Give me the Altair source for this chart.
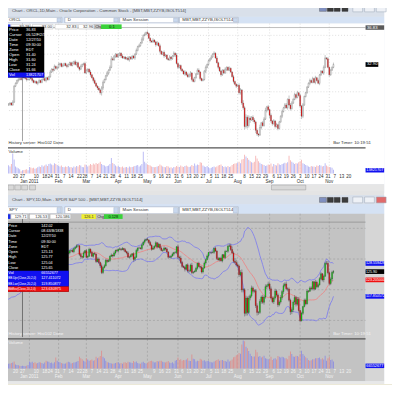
import altair as alt
import numpy as np
import pandas as pd

FONT = "Liberation Sans"
NARROW = "'Liberation Sans Narrow', 'Liberation Sans', sans-serif"
W, H = 373, 397

# ---------------- ORCL daily closes, Mon 13 Dec 2010 .. Fri 4 Nov 2011 (5 per week) ----------------
ORCL_CLOSE = [
    28.7, 28.8, 28.6, 28.9, 30.6,  30.9, 31.2, 31.3, 31.4, 31.3,  31.7, 31.5, 31.4, 31.3, 31.3,
    31.6, 31.4, 31.2, 31.0, 31.1,  30.9, 31.0, 31.2, 31.0, 31.3,  31.4, 31.2, 31.5, 31.3, 31.6,
    32.1, 32.4, 32.3, 32.7, 32.5,  32.6, 32.9, 33.0, 32.7, 32.8,  33.0, 32.8, 32.7, 32.9, 33.1,
    32.8, 33.0, 33.2, 32.9, 33.1,  32.6, 32.4, 32.7, 32.9, 33.0,  32.0, 32.3, 32.4, 32.1, 31.8,
    31.5, 31.2, 30.9, 30.6, 30.4,  30.2, 29.9, 30.4, 31.0, 31.3,  31.7, 32.0, 32.3, 32.6, 33.5,
    33.4, 33.8, 34.0, 33.7, 33.9,  34.1, 33.8, 33.6, 33.7, 33.5,  33.6, 33.4, 33.7, 33.5, 33.8,
    33.6, 34.0, 34.4, 34.8, 34.9,  35.2, 35.6, 36.0, 36.1, 36.3,  36.2, 35.7, 35.4, 35.3, 35.5,
    35.3, 35.0, 35.2, 34.9, 34.3,  34.0, 34.2, 33.8, 33.9, 33.5,  33.4, 33.7, 33.5, 33.8, 34.1,
    33.9, 33.0, 32.6, 32.8, 32.4,  32.2, 31.9, 32.1, 31.8, 31.6,  31.8, 32.0, 31.3, 31.1, 31.5,
    31.9, 32.3, 32.1, 31.4, 31.2,  31.3, 32.2, 32.6, 32.9, 33.3,  33.5, 33.7, 34.0, 34.1, 33.6,
    33.1, 32.6, 32.2, 31.8, 32.3,  32.0, 32.4, 32.6, 32.3, 32.5,  32.1, 31.6, 31.1, 30.8, 30.6,
    30.7, 29.9, 30.2, 28.8, 28.3,  26.3, 27.3, 26.4, 27.2, 27.0,  27.3, 27.0, 26.8, 25.9, 25.5,
    25.4, 26.2, 26.7, 26.4, 27.1,  28.0, 28.4, 28.1, 27.5, 26.9,  26.6, 26.9, 26.3, 26.5, 26.1,
    26.8, 27.4, 27.9, 28.3, 28.6,  28.3, 29.2, 28.6, 28.2, 28.8,  29.2, 29.7, 29.4, 29.9, 29.6,
    28.5, 27.4, 28.6, 29.5, 29.9,  30.5, 30.9, 31.2, 31.0, 31.4,  31.0, 31.5, 31.2, 30.9, 31.8,
    32.2, 32.0, 32.6, 33.6, 33.5,  32.6, 31.8, 32.3, 32.6, 32.9,
]
ORCL_FIRST_OPEN = 28.6
# wick above / below the candle body, in tenths of a dollar, one string per week
ORCL_WICK_UP = [
    "11121", "11211", "21111", "12111", "11211", "12111", "21121", "12112", "11211", "12121",
    "11211", "21112", "11211", "21221", "12123", "21112", "11211", "12111", "11212", "12121",
    "21112", "11212", "11211", "12112", "12111", "11212", "12121", "12211", "11211", "12121",
    "21111", "12112", "11211", "12213", "23232", "12212", "13122", "31212", "12121", "11212",
    "21422", "12121", "21211", "11212", "12121", "11231", "21112",
]
ORCL_WICK_DN = [
    "12111", "11211", "11121", "11211", "12111", "11211", "11211", "21111", "11211", "11112",
    "12111", "11212", "12112", "12321", "11211", "11211", "12111", "11211", "12111", "11211",
    "11211", "12112", "11211", "11211", "21212", "11211", "12211", "11321", "11211", "11111",
    "12121", "11211", "11212", "12222", "32323", "12232", "21211", "12132", "21212", "11211",
    "12121", "11211", "23211", "11211", "12112", "11211", "12111",
]
ORCL_VOL_M = [
    35, 30, 40, 85, 60,  30, 25, 22, 18, 10,  14, 15, 16, 18, 14,  28, 25, 22, 24, 20,
    22, 26, 30, 28, 35,  30, 34, 38, 32, 40,  42, 38, 35, 44, 40,  36, 32, 30, 34, 28,
    26, 30, 28, 32, 26,  28, 24, 30, 26, 32,  30, 36, 34, 28, 26,  38, 36, 30, 34, 40,
    36, 42, 38, 45, 40,  44, 50, 40, 36, 34,  30, 32, 34, 40, 66,  45, 40, 34, 30, 32,
    28, 26, 30, 24, 26,  28, 24, 30, 26, 28,  30, 32, 34, 36, 30,  34, 40, 92, 50, 44,
    38, 36, 34, 30, 28,  26, 28, 30, 32, 38,  34, 30, 28, 26, 32,  30, 24, 26, 22, 28,
    26, 32, 30, 28, 34,  30, 28, 32, 34, 30,  28, 30, 36, 32, 42,  34, 38, 36, 48, 46,
    34, 30, 28, 32, 26,  22, 24, 28, 30, 26,  30, 34, 36, 38, 32,  28, 30, 26, 32, 28,
    30, 36, 40, 42, 44,  46, 50, 44, 60, 62,  80, 72, 66, 58, 52,  48, 46, 50, 75, 64,
    52, 46, 40, 38, 36,  32, 34, 38, 36, 42,  30, 40, 36, 34, 44,  38, 36, 40, 42, 46,
    44, 48, 75, 56, 50,  46, 40, 44, 42, 48,  52, 58, 44, 40, 36,  34, 30, 28, 32, 30,
    30, 28, 34, 32, 36,  34, 30, 32, 44, 34,  30, 28, 26, 24, 16,
]

# ---------------- SPY daily closes, Mon 8 Nov 2010 .. Fri 4 Nov 2011 (5 per week) ----------------
SPY_CLOSE = [
    122.0, 121.5, 122.3, 121.5, 120.2,  119.9, 118.0, 118.1, 119.9, 120.2,  120.1, 118.3, 120.2, 120.2, 119.3,
    119.0, 118.3, 120.8, 122.1, 122.4,  122.3, 122.4, 122.8, 123.2, 123.8,
    124.0, 124.2, 123.8, 124.4, 124.3,  124.6, 125.3, 125.6, 125.4, 125.4,  125.65, 125.8, 126.0, 125.7, 125.8,
    127.1, 127.3, 127.9, 127.6, 127.4,  127.1, 128.1, 129.1, 128.9, 129.7,  129.7, 130.0, 128.8, 129.1, 129.4,
    130.3, 130.4, 130.8, 131.0, 128.4,  129.0, 131.2, 131.2, 130.9, 131.2,  131.9, 132.0, 131.9, 132.0, 132.7,
    132.8, 132.4, 133.4, 133.8, 134.3,  134.3, 131.5, 130.8, 130.6, 132.0,  132.7, 130.6, 130.9, 133.2, 132.2,
    130.9, 131.8, 131.6, 129.2, 130.0,  128.9, 127.8, 125.6, 127.2, 127.8,  129.6, 129.2, 129.5, 130.9, 131.3,
    131.0, 132.0, 132.8, 132.6, 133.2,  133.3, 133.1, 133.4, 133.0, 132.4,  132.0, 130.6, 130.7, 131.2, 131.7,
    129.9, 130.6, 132.8, 133.6, 133.6,  133.4, 134.6, 135.5, 136.1, 136.4,  136.2, 135.4, 134.5, 133.2, 133.6,
    134.2, 135.3, 133.9, 134.8, 133.6,  132.8, 132.9, 133.6, 133.3, 132.3,  130.6, 130.6, 131.0, 131.6, 132.1,
    132.1, 134.0, 130.6, 130.3, 128.9,  127.6, 127.3, 126.7, 128.1, 126.1,  126.1, 128.0, 125.6, 125.8, 126.0,
    127.0, 128.6, 127.6, 127.3, 125.8,  127.1, 128.7, 129.8, 131.0, 132.1,  132.1, 132.1, 132.2, 133.5, 132.6,
    130.2, 129.7, 130.3, 129.4, 131.4,  130.5, 132.5, 132.5, 134.2, 134.3,  133.1, 132.0, 129.3, 128.9, 128.1,
    127.7, 124.9, 125.6, 119.9, 120.0,  112.3, 117.3, 112.6, 117.3, 118.0,  120.6, 119.5, 119.7, 114.8, 112.6,
    112.6, 116.2, 117.6, 115.9, 117.6,  121.0, 121.3, 121.9, 120.3, 117.3,  116.1, 117.3, 119.6, 118.3, 115.1,
    116.0, 117.5, 119.4, 121.3, 121.9,  120.3, 120.2, 116.6, 112.8, 113.5,  116.0, 117.5, 115.3, 116.9, 113.2,
    109.9, 112.3, 114.5, 116.6, 115.4,  119.6, 119.5, 120.6, 120.3, 122.6,  120.2, 122.5, 121.0, 121.6, 123.6,
    125.2, 123.2, 124.4, 128.6, 128.6,  125.5, 122.0, 123.5, 125.7, 125.9,
]
SPY_FIRST_OPEN = 121.8
# wick above / below the body, in quarters of a dollar, one string per week
SPY_WICK_UP = [
    "21212", "12121", "21212", "12121", "21212",
    "12121", "21111", "11211", "21212", "12121", "21212", "12121", "21212", "12121", "12112",
    "21212", "12121", "21212", "21312", "21212", "12121", "21212", "12121", "21212", "12121",
    "21212", "12121", "21212", "12121", "21323", "21212", "22312", "21212", "12121", "21212",
    "12121", "12123", "34243", "32342", "23232", "32223", "23232", "32323", "22322", "23232",
    "32223", "23233", "12122", "21221", "13222", "21223", "32222",
]
SPY_WICK_DN = [
    "12121", "21212", "12121", "21212", "12121",
    "21212", "11121", "12111", "12121", "21212", "12121", "21212", "12123", "21212", "21211",
    "12321", "21212", "12121", "23221", "12121", "21212", "12121", "21212", "32121", "12121",
    "12121", "21212", "12121", "21212", "12232", "21312", "21221", "12122", "21212", "12121",
    "21212", "12121", "21212", "23233", "43423", "23234", "32323", "23232", "23223", "22332",
    "23243", "34323", "21212", "12122", "21221", "22312", "22232",
]
SPY_VOL_M = [
    180, 170, 190, 200, 210,  250, 280, 220, 200, 170,  160, 190, 150, 60, 110,  180, 190, 220, 170, 160,
    150, 160, 140, 130, 140,
    120, 130, 140, 150, 180,  100, 90, 80, 70, 60,  66, 60, 55, 70, 90,  180, 150, 170, 140, 160,
    130, 140, 160, 150, 140,  120, 150, 200, 180, 170,  140, 150, 130, 160, 280,  200, 170, 160, 140, 130,
    120, 130, 150, 170, 160,  130, 140, 150, 160, 170,  190, 300, 260, 240, 200,  180, 260, 230, 200, 210,
    230, 200, 210, 300, 260,  280, 320, 460, 300, 260,  200, 160, 150, 140, 130,  120, 130, 140, 150, 160,
    130, 140, 120, 150, 160,  140, 170, 160, 150, 140,  190, 160, 180, 140, 130,  120, 150, 170, 140, 130,
    140, 170, 190, 200, 180,  150, 160, 190, 180, 200,  200, 170, 160, 150, 170,  190, 150, 140, 160, 130,
    200, 220, 280, 220, 240,  200, 220, 210, 230, 260,  200, 190, 360, 250, 240,  180, 200, 190, 250, 230,
    200, 210, 180, 190, 200,  170, 160, 150, 180, 200,  220, 240, 200, 210, 220,  200, 190, 170, 230, 180,
    200, 230, 290, 300, 340,  360, 400, 380, 620, 720,  700, 560, 520, 450, 380,  320, 300, 310, 480, 420,
    300, 320, 280, 300, 330,  260, 250, 240, 230, 300,  220, 250, 260, 230, 320,  300, 280, 300, 290, 260,
    260, 240, 330, 440, 370,  310, 300, 330, 320, 300,  380, 460, 370, 330, 290,  260, 220, 200, 210, 240,
    240, 260, 260, 270, 280,  240, 260, 230, 330, 200,  260, 300, 220, 230, 180,
]

# ---------------- axis labels ----------------
WEEK_TICKS = [
    "2010-12-20", "2010-12-27", "2011-01-10", "2011-01-18", "2011-01-24", "2011-01-31",
    "2011-02-07", "2011-02-14", "2011-02-22", "2011-02-28", "2011-03-07", "2011-03-14",
    "2011-03-21", "2011-03-28", "2011-04-04", "2011-04-11", "2011-04-18", "2011-04-25",
    "2011-05-09", "2011-05-16", "2011-05-23", "2011-05-31", "2011-06-06", "2011-06-13",
    "2011-06-20", "2011-06-27", "2011-07-05", "2011-07-11", "2011-07-18", "2011-07-25",
    "2011-08-08", "2011-08-15", "2011-08-22", "2011-08-29", "2011-09-06", "2011-09-12",
    "2011-09-19", "2011-09-26", "2011-10-03", "2011-10-10", "2011-10-17", "2011-10-24",
    "2011-10-31", "2011-11-07", "2011-11-14", "2011-11-21",
]
WEEK_LABELS = ["20", "27", "10", "18", "24", "31", "7", "14", "22", "28", "7", "14",
               "21", "28", "4", "11", "18", "25", "9", "16", "23", "31", "6", "13",
               "20", "27", "5", "11", "18", "25", "8", "15", "22", "29", "6", "12",
               "19", "26", "3", "10", "17", "24", "31", "7", "13", "20"]
MONTH_TICKS = ["2011-01-03", "2011-02-01", "2011-03-01", "2011-04-01", "2011-05-02", "2011-06-01",
               "2011-07-01", "2011-08-01", "2011-09-01", "2011-10-03", "2011-11-01"]
MONTH_LABELS = ["Jan 2011", "Feb", "Mar", "Apr", "May", "Jun", "Jul", "Aug", "Sep", "Oct", "Nov"]
TOP_PRICE_TICKS = [26, 28, 30, 32, 34, 36]
TOP_VOL_TICKS = [0, 50000000, 100000000]
BOT_PRICE_TICKS = [110, 120, 130, 140]
BOT_VOL_TICKS = [0, 200000000, 400000000, 600000000]
CURSOR_DATE = "2010-12-27"
TOP_CURSOR_PRICE = 36.83
BOT_CURSOR_PRICE = 142.02
TOP_CURSOR_VOL = 13821707
BOT_CURSOR_VOL = 66552677


def kidx(dates):
    d = np.array(pd.to_datetime(dates).values, dtype="datetime64[D]")
    return np.busday_count(np.datetime64("2010-12-20"), d)


def ohlc(start, closes, first_open, wick_up, wick_dn, unit, vols):
    dates = pd.bdate_range(start, periods=len(closes))
    c = np.array(closes, float)
    o = np.r_[first_open, c[:-1]]
    up = np.array([int(ch) for ch in "".join(wick_up)]) * unit
    dn = np.array([int(ch) for ch in "".join(wick_dn)]) * unit
    df = pd.DataFrame({"k": kidx(dates), "o": o, "c": c,
                       "hi": np.maximum(o, c) + up, "lo": np.minimum(o, c) - dn,
                       "v": np.array(vols, float) * 1e6})
    df["dir"] = np.where(c >= o, "up", "down")
    return df


orcl = ohlc("2010-12-13", ORCL_CLOSE, ORCL_FIRST_OPEN, ORCL_WICK_UP, ORCL_WICK_DN, 0.1, ORCL_VOL_M)
spy = ohlc("2010-11-08", SPY_CLOSE, SPY_FIRST_OPEN, SPY_WICK_UP, SPY_WICK_DN, 0.25, SPY_VOL_M)
roll = spy["c"].rolling(20)
spy["mid"] = roll.mean()
spy["upr"] = spy["mid"] + 2 * roll.std(ddof=0)
spy["lwr"] = spy["mid"] - 2 * roll.std(ddof=0)

weeks = pd.DataFrame({"k": kidx(WEEK_TICKS), "lab": WEEK_LABELS})
months = pd.DataFrame({"k": kidx(MONTH_TICKS), "lab": MONTH_LABELS})
cursor = pd.DataFrame({"k": kidx([CURSOR_DATE])})

# ---------------- scales ----------------
XS = alt.Scale(domain=[-7.554, 248.59], zero=False, nice=False)
YT = alt.Scale(domain=[24.021, 37.25], range=[147, 20], zero=False, nice=False)
YTV = alt.Scale(domain=[0, 104.2e6], range=[173, 148], nice=False)
YB = alt.Scale(domain=[103.936, 144.787], range=[342, 214], zero=False, nice=False)
YBV = alt.Scale(domain=[0, 760e6], range=[372, 342], nice=False)

X = alt.X("k:Q", scale=XS, axis=None)
DUMMY = pd.DataFrame({"z": [0]})


def raxis(values, fmt, color="#303030"):
    return alt.Axis(orient="right", values=values, format=fmt, ticks=False, grid=False, title=None,
                    domainColor="#7a7a7a", domainWidth=1, labelFont=FONT, labelFontSize=4.6,
                    labelColor=color, labelPadding=2, labelAlign="left", labelBaseline="middle",
                    labelOverlap=False, labelFlush=False)


def box(x1, y1, x2, y2, fill, stroke=None, sw=0.5):
    kw = {"fill": fill}
    if stroke:
        kw.update(stroke=stroke, strokeWidth=sw)
    else:
        kw.update(strokeWidth=0)
    return alt.Chart(DUMMY).mark_rect(**kw).encode(
        x=alt.value(x1), x2=alt.value(x2), y=alt.value(y1), y2=alt.value(y2))


def txt(x, y, s, size=4.6, color="#202020", align="left", weight="normal", font=FONT):
    return alt.Chart(DUMMY).mark_text(align=align, baseline="middle", fontSize=size, color=color,
                                      font=font, fontWeight=weight).encode(
        x=alt.value(x), y=alt.value(y), text=alt.value(s))


def hrule(x1, x2, y, color, sw=1.0, dash=None):
    kw = {"color": color, "strokeWidth": sw}
    if dash:
        kw["strokeDash"] = dash
    return alt.Chart(DUMMY).mark_rule(**kw).encode(x=alt.value(x1), x2=alt.value(x2), y=alt.value(y))


def window_chrome(y0, ytb, title, sym, close_fill):
    """title bar from y0 to ytb, toolbar from ytb to y0 + 20"""
    L = []
    L.append(box(0, y0, 392, ytb, "#d9e0ea"))
    L.append(txt(12, (y0 + ytb) / 2 + 0.2, title, 4.4, "#4a4a4a"))
    L.append(box(326, y0 + 2.5, 333, y0 + 7.5, "#8090c0", "#505050", 0.4))
    for xa in (334, 341, 349):
        L.append(box(xa, y0 + 2.5, xa + 6, y0 + 7.5, "#3c3c3c", "#202020", 0.4))
    for xa in (360, 372):
        L.append(box(xa, y0 + 2, xa + 10, y0 + 8, "#eef1f6", "#9aa6b8", 0.5))
    L.append(box(384, y0 + 2, 394, y0 + 8, close_fill, "#9aa6b8", 0.5))
    L.append(box(0, ytb, 392, y0 + 20, "#d5e2f4"))
    bt = max(y0 + 12, ytb + 0.6)
    for (xa, xb, s) in ((4, 63, sym), (66, 121, "D"), (122, 182, "Main Session"),
                        (183, 243, "MBT,MBT,ZZYB,ISOLT514")):
        L.append(box(xa, bt, xb, y0 + 19.2, "#ffffff", "#8f9fb8", 0.5))
        L.append(txt(max(xa + 3, 9), (bt + y0 + 19.2) / 2 + 0.2, s, 4.4, "#303030"))
        L.append(box(xb - 5, bt + 0.8, xb - 0.8, y0 + 18.4, "#c9d8ee", "#8f9fb8", 0.3))
    return L


layers = []

# ======================= TOP WINDOW (ORCL) =======================
layers.append(box(0, 0, 392, 193, "#dfe6ef"))
layers += window_chrome(0, 13.0, "Chart - ORCL,1D,Main - Oracle Corporation - Common Stock - [MBT,MBT,ZZYB,ISOLT514]",
                        "ORCL", "#eef1f6")
layers.append(box(0, 20, 392, 184, "#ffffff"))
layers.append(box(0, 184, 392, 191, "#e6e6e6"))
for xa in (8, 15, 22, 30):
    layers.append(box(xa, 184.8, xa + 6, 189.8, "#d8d8d8", "#8a8a8a", 0.4))
layers.append(box(277, 184.8, 312, 189.8, "#d8d8d8", "#8a8a8a", 0.4))

# grid
layers.append(alt.Chart(months).mark_rule(color="#c8c8c8", strokeWidth=0.6, strokeDash=[1, 2]).encode(
    x=X, y=alt.value(20), y2=alt.value(173)))

top_price = alt.layer(
    alt.Chart(pd.DataFrame({"p": TOP_PRICE_TICKS})).mark_rule(
        color="#c8c8c8", strokeWidth=0.6, strokeDash=[1, 2]).encode(
        y=alt.Y("p:Q", scale=YT, axis=raxis(TOP_PRICE_TICKS, ".2f")), x=alt.value(0), x2=alt.value(373)),
    alt.Chart(pd.DataFrame({"p": [TOP_CURSOR_PRICE]})).mark_rule(color="#a0a0a0", strokeWidth=0.7).encode(
        y=alt.Y("p:Q", scale=YT, axis=None), x=alt.value(0), x2=alt.value(373)),
    alt.Chart(orcl).mark_rule(color="#6a6a6a", strokeWidth=0.4).encode(
        x=X, y=alt.Y("lo:Q", scale=YT, axis=None), y2="hi:Q"),
    alt.Chart(orcl).mark_bar(width=1.0, stroke="#5a5a5a", strokeWidth=0.3).encode(
        x=X, y=alt.Y("o:Q", scale=YT, axis=None), y2="c:Q",
        fill=alt.condition("datum.dir == 'up'", alt.value("#ffffff"), alt.value("#ff0000"))),
)
layers.append(top_price)

top_vol = alt.layer(
    alt.Chart(pd.DataFrame({"p": TOP_VOL_TICKS})).mark_rule(opacity=0).encode(
        y=alt.Y("p:Q", scale=YTV, axis=raxis(TOP_VOL_TICKS, "d")), x=alt.value(0), x2=alt.value(373)),
    alt.Chart(orcl).mark_bar(width=0.9).encode(
        x=X, y=alt.Y("v:Q", scale=YTV, axis=None, stack=None),
        color=alt.condition("datum.dir == 'up'", alt.value("#b4b4f4"), alt.value("#f6b4b4"))),
)
layers.append(top_vol)

layers.append(hrule(0, 373, 146.8, "#555555", 1.2))
layers.append(txt(8.5, 142, "History server: Hist102 Done", 4.4, "#303030"))
layers.append(txt(340, 142, "Bar Timer: 10:19:51", 4.4, "#303030"))
layers.append(txt(8.5, 150.6, "Volume", 4.4, "#303030"))
layers.append(alt.Chart(cursor).mark_rule(color="#8a8a8a", strokeWidth=0.8).encode(
    x=X, y=alt.value(20), y2=alt.value(140)))

# date labels
layers.append(alt.Chart(weeks).mark_text(fontSize=4.6, font=FONT, color="#303030", baseline="middle").encode(
    x=X, y=alt.value(176.3), text="lab:N"))
layers.append(alt.Chart(months).mark_text(fontSize=4.6, font=FONT, color="#303030", baseline="middle").encode(
    x=X, y=alt.value(181.3), text="lab:N"))

# field row
layers.append(box(8, 20.8, 10.5, 25.5, "#1a2ee8"))
for (xa, xb, s) in ((11, 31, "32.28"), (33, 54, "33.00"), (56, 79, "32.83"), (80, 96, "32.96")):
    layers.append(box(xa, 20.8, xb, 25.5, "#ffffff", "#a8a8a8", 0.4))
    layers.append(txt(xb - 1, 23.2, s, 4.2, "#303030", "right"))
layers.append(box(96, 20.8, 103, 25.5, "#c8c8c8", "#a0a0a0", 0.4))
layers.append(txt(97, 23.2, "Chg", 4.0, "#202020"))
layers.append(box(103, 20.8, 124, 25.5, "#3ad23a"))
layers.append(txt(114, 23.2, "0.1", 4.2, "#102010", "center"))

# data window (top)
TOP_ROWS = [("Price", "36.83"), ("Cursor", "06.52/F/2/10"), ("Date", "12/27/10"), ("Time", "09:30:00"),
            ("Zone", "EDT"), ("Open", "31.40"), ("High", "31.60"), ("Low", "31.24"), ("Close", "31.66"),
            ("Vol", "13821707")]
layers.append(box(7, 23.2, 45, 75, "#000000"))
layers.append(box(7, 69.8, 45, 75, "#1010f0"))
for i, (a, b) in enumerate(TOP_ROWS):
    yy = 26.2 + i * 5.18
    layers.append(txt(9, yy, a, 4.3, "#ffffff"))
    layers.append(txt(26.5, yy, b, 3.9, "#ffffff", font=NARROW))

# right-side value boxes (top)
last_orcl = orcl.iloc[[-1]].assign(lab=lambda d: d["c"].map(lambda v: f"{v:.2f}"))
curp = pd.DataFrame({"p": [TOP_CURSOR_PRICE], "lab": [f"{TOP_CURSOR_PRICE:.2f}"]})
layers.append(alt.Chart(curp).mark_tick(orient="horizontal", size=19, thickness=4.6, color="#5a5a5a",
                                        opacity=1).encode(
    x=alt.value(382.5), y=alt.Y("p:Q", scale=YT, axis=None)))
layers.append(alt.Chart(curp).mark_text(align="left", baseline="middle", fontSize=4.3, font=FONT,
                                        color="#ffffff").encode(
    x=alt.value(374.5), y=alt.Y("p:Q", scale=YT, axis=None), text="lab:N"))
layers.append(alt.Chart(last_orcl).mark_tick(orient="horizontal", size=13, thickness=4.8, color="#000000",
                                             opacity=1).encode(
    x=alt.value(379.5), y=alt.Y("c:Q", scale=YT, axis=None)))
layers.append(alt.Chart(last_orcl).mark_text(align="left", baseline="middle", fontSize=4.3, font=FONT,
                                             color="#ffffff").encode(
    x=alt.value(374.5), y=alt.Y("c:Q", scale=YT, axis=None), text="lab:N"))
tv = pd.DataFrame({"v": [TOP_CURSOR_VOL], "lab": [str(TOP_CURSOR_VOL)]})
layers.append(alt.Chart(tv).mark_tick(orient="horizontal", size=19, thickness=4.6, color="#1010f0",
                                      opacity=1).encode(
    x=alt.value(382.5), y=alt.Y("v:Q", scale=YTV, axis=None)))
layers.append(alt.Chart(tv).mark_text(align="left", baseline="middle", fontSize=3.9, font=NARROW,
                                      color="#ffffff").encode(
    x=alt.value(373.8), y=alt.Y("v:Q", scale=YTV, axis=None), text="lab:N"))

# ======================= BOTTOM WINDOW (SPY) =======================
layers.append(box(0, 191, 392, 195, "#e4e4e4"))
layers.append(box(0, 195, 392, 397, "#dfe6ef"))
layers += window_chrome(195, 204.3, "Chart - SPY,1D,Main - SPDR S&P 500 - [MBT,MBT,ZZYB,ISOLT514]", "SPY",
                        "#e06a6a")
layers.append(box(0, 214, 373, 385, "#c3c3c3"))
layers.append(box(373, 214, 392, 385, "#d6d6d6"))
layers.append(box(0, 385, 392, 388, "#e8e8e8"))
layers.append(box(0, 388, 400, 397, "#ece9d8"))

layers.append(alt.Chart(months).mark_rule(color="#9a9a9a", strokeWidth=0.6, strokeDash=[2, 2]).encode(
    x=X, y=alt.value(214), y2=alt.value(372)))

bot_price = alt.layer(
    alt.Chart(pd.DataFrame({"p": BOT_PRICE_TICKS})).mark_rule(
        color="#9a9a9a", strokeWidth=0.6, strokeDash=[2, 2]).encode(
        y=alt.Y("p:Q", scale=YB, axis=raxis(BOT_PRICE_TICKS, ".2f", "#202020")), x=alt.value(0), x2=alt.value(373)),
    alt.Chart(pd.DataFrame({"p": [BOT_CURSOR_PRICE]})).mark_rule(color="#8a8a8a", strokeWidth=0.7).encode(
        y=alt.Y("p:Q", scale=YB, axis=None), x=alt.value(0), x2=alt.value(373)),
    alt.Chart(spy).mark_line(color="#7878f0", strokeWidth=0.8).encode(
        x=X, y=alt.Y("upr:Q", scale=YB, axis=None)),
    alt.Chart(spy).mark_line(color="#7878f0", strokeWidth=0.8).encode(
        x=X, y=alt.Y("lwr:Q", scale=YB, axis=None)),
    alt.Chart(spy).mark_line(color="#f08080", strokeWidth=0.8).encode(
        x=X, y=alt.Y("mid:Q", scale=YB, axis=None)),
    alt.Chart(spy).mark_rule(color="#303030", strokeWidth=0.4).encode(
        x=X, y=alt.Y("lo:Q", scale=YB, axis=None), y2="hi:Q"),
    alt.Chart(spy).mark_bar(width=1.0, stroke="#303030", strokeWidth=0.3).encode(
        x=X, y=alt.Y("o:Q", scale=YB, axis=None), y2="c:Q",
        fill=alt.condition("datum.dir == 'up'", alt.value("#00ee00"), alt.value("#ff0000"))),
)
layers.append(bot_price)

bot_vol = alt.layer(
    alt.Chart(pd.DataFrame({"p": BOT_VOL_TICKS})).mark_rule(opacity=0).encode(
        y=alt.Y("p:Q", scale=YBV, axis=raxis(BOT_VOL_TICKS, "d", "#202020")), x=alt.value(0), x2=alt.value(373)),
    alt.Chart(spy).mark_bar(width=0.9).encode(
        x=X, y=alt.Y("v:Q", scale=YBV, axis=None, stack=None),
        color=alt.condition("datum.dir == 'up'", alt.value("#8e8ee0"), alt.value("#dc9090"))),
)
layers.append(bot_vol)

layers.append(hrule(0, 373, 341.8, "#555555", 1.2))
layers.append(txt(8.5, 336.5, "History server: Hist102 Done", 4.4, "#f4f4f4"))
layers.append(txt(340, 336.5, "Bar Timer: 10:19:51", 4.4, "#f4f4f4"))
layers.append(txt(8.5, 345.8, "Volume", 4.4, "#f4f4f4"))
layers.append(alt.Chart(cursor).mark_rule(color="#5a5a5a", strokeWidth=0.8).encode(
    x=X, y=alt.value(214), y2=alt.value(340)))

layers.append(alt.Chart(weeks).mark_text(fontSize=4.6, font=FONT, color="#f2f2f2", baseline="middle").encode(
    x=X, y=alt.value(375.3), text="lab:N"))
layers.append(alt.Chart(months).mark_text(fontSize=4.6, font=FONT, color="#f2f2f2", baseline="middle").encode(
    x=X, y=alt.value(380.8), text="lab:N"))

# field row
layers.append(box(8, 214.6, 10.5, 219.4, "#1a2ee8"))
for (xa, xb, s) in ((11, 28, "129.71"), (30, 49, "126.53"), (51, 72, "120.586")):
    layers.append(box(xa, 214.6, xb, 219.4, "#ffffff", "#a8a8a8", 0.4))
    layers.append(txt(xb - 1, 217, s, 4.0, "#303030", "right", font=NARROW))
layers.append(box(83, 214.6, 98, 219.4, "#f0f030"))
layers.append(txt(90.5, 217, "126.1", 4.0, "#303030", "center", font=NARROW))
layers.append(box(98, 214.6, 106, 219.4, "#c8c8c8", "#a0a0a0", 0.4))
layers.append(txt(99, 217, "Chg", 3.8, "#202020"))
layers.append(box(106, 214.6, 125, 219.4, "#3ad23a"))
layers.append(txt(115.5, 217, "0.128", 4.0, "#102010", "center", font=NARROW))

# data window (bottom)
BOT_ROWS = [("Price", "142.02"), ("Cursor", "08.63/B/1838"), ("Date", "12/27/10"), ("Time", "09:30:00"),
            ("Zone", "EDT"), ("Open", "125.13"), ("High", "125.77"), ("Low", "125.04"), ("Close", "125.65"),
            ("Vol", "66552677"), ("BB.Upr(Close,20,2,0)", "127.411072"), ("BB.Lwr(Close,20,2,0)", "119.850877"),
            ("BbMov(Close,20,2,0)", "123.630975")]
layers.append(box(5, 223.5, 70, 293.8, "#000000"))
layers.append(box(5, 272.4, 70, 288.5, "#1010f0"))
layers.append(box(5, 288.5, 70, 293.8, "#f01010"))
for i, (a, b) in enumerate(BOT_ROWS):
    yy = 226.6 + i * 5.34
    layers.append(txt(8.3, yy, a, 3.0 if len(a) > 12 else 4.0, "#ffffff", font=NARROW))
    layers.append(txt(42, yy, b, 3.8, "#ffffff", font=NARROW))

# right-side value boxes (bottom)
last = spy.iloc[-1]
rb = pd.DataFrame({"p": [last["upr"], last["c"], last["mid"], last["lwr"]],
                   "lab": [f"{last['upr']:.6f}", f"{last['c']:.2f}", f"{last['mid']:.6f}", f"{last['lwr']:.6f}"],
                   "col": ["#1010f0", "#000000", "#f01010", "#1010f0"]})
layers.append(alt.Chart(rb).mark_tick(orient="horizontal", size=19, thickness=4.8, opacity=1).encode(
    x=alt.value(382.5), y=alt.Y("p:Q", scale=YB, axis=None), color=alt.Color("col:N", scale=None)))
layers.append(alt.Chart(rb).mark_text(align="left", baseline="middle", fontSize=3.7, font=NARROW,
                                      color="#ffffff").encode(
    x=alt.value(373.5), y=alt.Y("p:Q", scale=YB, axis=None), text="lab:N"))
bv = pd.DataFrame({"v": [BOT_CURSOR_VOL], "lab": [str(BOT_CURSOR_VOL)]})
layers.append(alt.Chart(bv).mark_tick(orient="horizontal", size=19, thickness=4.6, color="#1010f0",
                                      opacity=1).encode(
    x=alt.value(382.5), y=alt.Y("v:Q", scale=YBV, axis=None)))
layers.append(alt.Chart(bv).mark_text(align="left", baseline="middle", fontSize=3.9, font=NARROW,
                                      color="#ffffff").encode(
    x=alt.value(373.8), y=alt.Y("v:Q", scale=YBV, axis=None), text="lab:N"))

# status bar (its real place, at the very bottom of the window)
layers.append(txt(243, 392.5, "NAS 2689.71  +49.73  +1.88   DJI 12208.25  +202.19  +1.71", 4.4, "#206020"))
layers.append(txt(377, 392.5, "14:10:10 EDT", 4.4, "#303030"))

chart = alt.layer(*layers).resolve_scale(y="independent").properties(
    width=W, height=H,
    autosize=alt.AutoSizeParams(type="none"),
    padding={"left": -8, "top": -8, "right": 27, "bottom": -12},
    background="#ffffff",
).configure_view(stroke=None)

chart.save("out.html", embed_options={"renderer": "svg", "actions": False})
